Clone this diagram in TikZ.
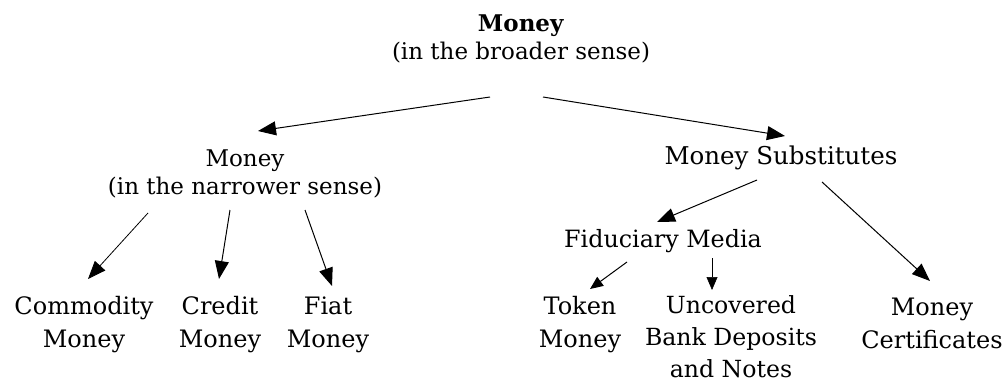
\documentclass[tikz,border=0pt]{standalone}
\usepackage{fontspec}
\setmainfont{DejaVu Serif}
\usetikzlibrary{arrows.meta}
\begin{document}
\begin{tikzpicture}[x=1pt,y=-1pt,
			upper/.style={align=center, inner sep=0pt, font=\fontsize{23}{28}\selectfont},
			lower/.style={align=center, inner sep=0pt, font=\fontsize{24}{33}\selectfont},
			small/.style={-{Triangle[length=13pt,width=11pt]}},
			>={Triangle[length=18pt,width=14pt]}, line width=1pt,
			]
			\useasboundingbox (0,0) rectangle (1003,385);
			\node[upper] at (521,39) (top) {\textbf{Money}\\(in the broader sense)};
			\node[upper] at (245,174) (narrow) {Money\\(in the narrower sense)};
			\node[upper, font=\fontsize{24.5}{28}\selectfont] at (781,158) (subst) {Money Substitutes};
			\node[lower] at (84,325) (commodity) {Commodity\\Money};
			\node[lower] at (220,325) (credit) {Credit\\Money};
			\node[lower] at (328,325) (fiat) {Fiat\\Money};
			\node[lower, font=\fontsize{23.8}{33}\selectfont] at (663,241) (fiduciary) {Fiduciary Media};
			\node[lower] at (580,325) (token) {Token\\Money};
			\node[lower, font=\fontsize{23.6}{32}\selectfont] at (731,337) (uncovered) {Uncovered\\Bank Deposits\\and Notes};
			\node[lower] at (932,323) (certificates) {Money\\Certificates};
			\draw[->] ([shift={(-31,58)}]top.center) -- ([shift={(13,-43)}]narrow.center);
			\draw[->] ([shift={(22,58)}]top.center) -- ([shift={(4,-22)}]subst.center);
			\draw[->,line width=0.8pt] ([shift={(-97,39)}]narrow.center) -- ([shift={(4,-46)}]commodity.center);
			\draw[->] ([shift={(-15,36)}]narrow.center) -- ([shift={(-1,-46)}]credit.center);
			\draw[->] ([shift={(60,36)}]narrow.center) -- ([shift={(4,-39)}]fiat.center);
			\draw[->] ([shift={(-24,22)}]subst.center) -- ([shift={(-6,-19)}]fiduciary.center);
			\draw[->] ([shift={(41,24)}]subst.center) -- ([shift={(-2,-42)}]certificates.center);
			\draw[small] ([shift={(-36,21)}]fiduciary.center) -- ([shift={(10,-36)}]token.center);
			\draw[small,line width=0.6pt] ([shift={(49,17)}]fiduciary.center) -- ([shift={(-19,-47)}]uncovered.center);
		\end{tikzpicture}
\end{document}
